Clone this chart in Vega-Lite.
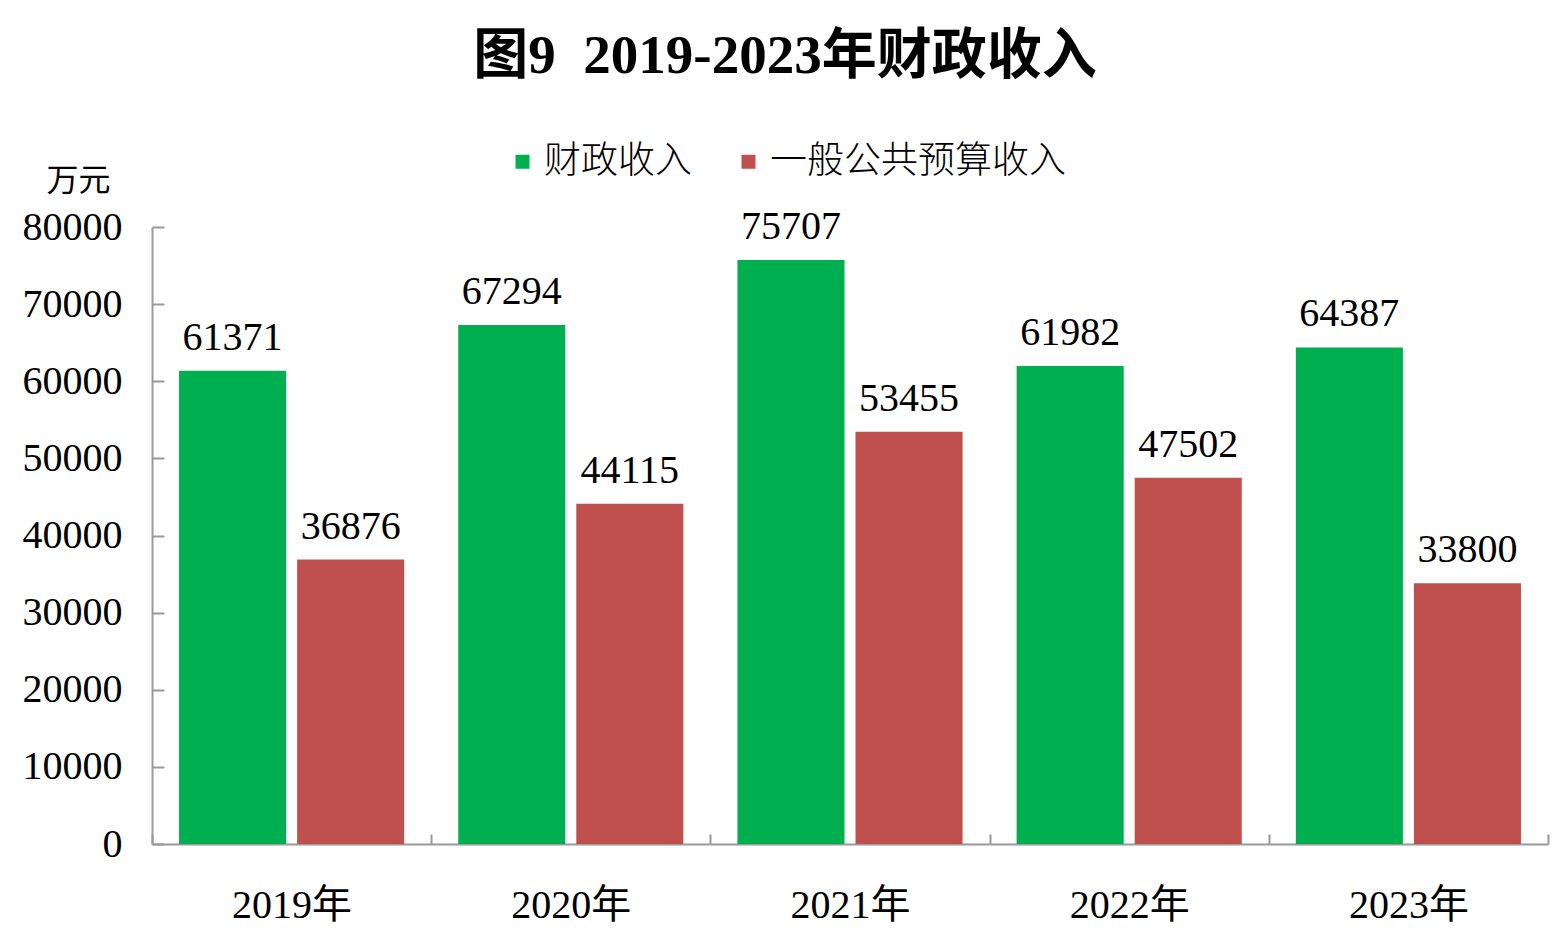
{
  "$schema": "https://vega.github.io/schema/vega-lite/v6.json",
  "autosize": {"type": "none"},
  "padding": {"left": 152, "top": 227, "right": 16, "bottom": 98},
  "width": 1396,
  "height": 617,
  "background": "white",
  "title": {
    "text": "图9\u00a0\u00a02019-2023年财政收入",
    "font": "Liberation Serif, Noto Sans CJK SC",
    "fontSize": 55,
    "fontWeight": "bold",
    "color": "black",
    "anchor": "middle",
    "dx": -65,
    "offset": 58
  },
  "data": {
    "values": [
      {"year": "2019年", "series": "财政收入", "value": 61371},
      {"year": "2019年", "series": "一般公共预算收入", "value": 36876},
      {"year": "2020年", "series": "财政收入", "value": 67294},
      {"year": "2020年", "series": "一般公共预算收入", "value": 44115},
      {"year": "2021年", "series": "财政收入", "value": 75707},
      {"year": "2021年", "series": "一般公共预算收入", "value": 53455},
      {"year": "2022年", "series": "财政收入", "value": 61982},
      {"year": "2022年", "series": "一般公共预算收入", "value": 47502},
      {"year": "2023年", "series": "财政收入", "value": 64387},
      {"year": "2023年", "series": "一般公共预算收入", "value": 33800}
    ]
  },
  "encoding": {
    "x": {
      "field": "year",
      "type": "nominal",
      "title": null,
      "scale": {"paddingInner": 0, "paddingOuter": 0},
      "axis": {
        "tickBand": "extent",
        "tickSize": -10,
        "labelPadding": 51,
        "labelAngle": 0,
        "labelBaseline": "top"
      }
    },
    "xOffset": {
      "field": "series",
      "type": "nominal",
      "sort": ["财政收入", "一般公共预算收入"],
      "scale": {"paddingInner": 0.093, "paddingOuter": 0.229}
    },
    "y": {
      "field": "value",
      "type": "quantitative",
      "stack": null,
      "title": "万元",
      "scale": {"domain": [0, 80000]},
      "axis": {
        "values": [0, 10000, 20000, 30000, 40000, 50000, 60000, 70000, 80000],
        "format": "d",
        "grid": false,
        "tickSize": -12,
        "labelPadding": 42,
        "titleAngle": 0,
        "titleX": -74,
        "titleY": -47,
        "titleAlign": "center",
        "titleBaseline": "middle",
        "titleFontSize": 32
      }
    }
  },
  "layer": [
    {
      "mark": {"type": "bar"},
      "encoding": {
        "color": {
          "field": "series",
          "type": "nominal",
          "sort": ["财政收入", "一般公共预算收入"],
          "scale": {"domain": ["财政收入", "一般公共预算收入"], "range": ["#00B050", "#C0504D"]},
          "legend": {
            "title": null,
            "orient": "none",
            "direction": "horizontal",
            "legendX": 352,
            "legendY": -84,
            "symbolType": "square",
            "symbolSize": 196,
            "symbolStrokeWidth": 0,
            "labelOffset": 3,
            "columnPadding": 38,
            "labelFont": "Noto Sans CJK SC",
            "labelFontSize": 37,
            "labelFontWeight": 300,
            "labelColor": "black",
            "labelLimit": 600
          }
        }
      }
    },
    {
      "mark": {
        "type": "text",
        "baseline": "alphabetic",
        "dy": -21,
        "font": "Liberation Serif",
        "fontSize": 40,
        "color": "black"
      },
      "encoding": {
        "text": {"field": "value", "type": "quantitative", "format": "d"}
      }
    }
  ],
  "config": {
    "view": {"stroke": null},
    "axis": {
      "domainColor": "#999999",
      "domainWidth": 2,
      "tickColor": "#999999",
      "tickWidth": 2,
      "labelFont": "Liberation Serif, Noto Sans CJK SC",
      "labelFontSize": 40,
      "labelColor": "black",
      "titleFont": "Liberation Serif, Noto Sans CJK SC",
      "titleFontWeight": "normal",
      "titleColor": "black"
    }
  }
}
